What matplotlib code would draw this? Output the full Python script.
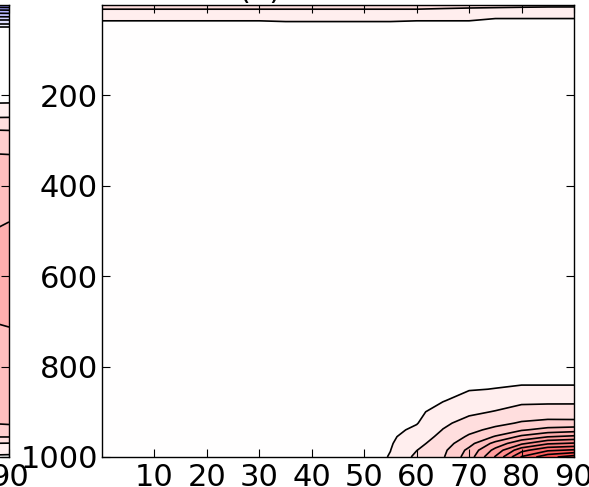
import numpy as np
import matplotlib.pyplot as plt

# latitude / pressure grid for panel (b)
lat = [0, 5, 10, 15, 20, 25, 30, 35, 40, 45, 50, 55, 60, 65, 70, 75, 80, 85, 90]
plev = [0, 5, 10, 20, 30, 50, 70, 100, 200, 400, 600, 700,
        800, 850, 875, 900, 925, 940, 955, 970, 985, 1000]

field_b = [
    [2.1, 2.1, 2.1, 2.1, 2.1, 2.1, 2.1, 2.1, 2.1, 2.1, 2.1, 2.1, 2.1, 2.1, 2.0, 1.95, 1.9, 1.85, 1.8],
    [1.8, 1.8, 1.8, 1.8, 1.8, 1.8, 1.8, 1.8, 1.8, 1.8, 1.8, 1.8, 1.8, 1.7, 1.6, 1.55, 1.5, 1.45, 1.45],
    [1.45, 1.45, 1.45, 1.45, 1.45, 1.45, 1.45, 1.45, 1.45, 1.45, 1.45, 1.45, 1.45, 1.35, 1.3, 1.25, 1.25, 1.25, 1.25],
    [0.95, 0.95, 0.95, 0.95, 0.95, 0.95, 0.95, 1.0, 1.0, 1.0, 1.0, 1.0, 0.95, 0.95, 0.95, 0.85, 0.85, 0.85, 0.85],
    [0.6, 0.6, 0.6, 0.6, 0.6, 0.6, 0.6, 0.65, 0.65, 0.65, 0.65, 0.65, 0.6, 0.6, 0.6, 0.5, 0.5, 0.5, 0.5],
    [0.2, 0.2, 0.2, 0.2, 0.2, 0.2, 0.2, 0.2, 0.2, 0.2, 0.2, 0.2, 0.2, 0.2, 0.2, 0.2, 0.2, 0.2, 0.2],
    [0.1, 0.1, 0.1, 0.1, 0.1, 0.1, 0.1, 0.1, 0.1, 0.1, 0.1, 0.1, 0.1, 0.1, 0.1, 0.1, 0.1, 0.1, 0.1],
    [0.05, 0.05, 0.05, 0.05, 0.05, 0.05, 0.05, 0.05, 0.05, 0.05, 0.05, 0.05, 0.05, 0.05, 0.05, 0.05, 0.05, 0.05, 0.05],
    [0, 0, 0, 0, 0, 0, 0, 0, 0, 0, 0, 0, 0, 0, 0, 0, 0, 0, 0],
    [0, 0, 0, 0, 0, 0, 0, 0, 0, 0, 0, 0, 0, 0, 0, 0, 0, 0, 0],
    [0, 0, 0, 0, 0, 0, 0, 0, 0, 0, 0, 0, 0, 0, 0, 0, 0, 0, 0],
    [0, 0, 0, 0, 0, 0, 0, 0, 0, 0, 0, 0, 0, 0, 0, 0, 0, 0, 0],
    [0, 0, 0, 0, 0, 0, 0, 0, 0, 0, 0, 0, 0, 0, 0.02, 0.05, 0.05, 0.05, 0.05],
    [0, 0, 0, 0, 0, 0, 0, 0, 0, 0, 0, 0, 0.05, 0.25, 0.45, 0.52, 0.6, 0.6, 0.6],
    [0, 0, 0, 0, 0, 0, 0, 0, 0, 0, 0, 0.02, 0.15, 0.45, 0.85, 1.03, 1.28, 1.3, 1.3],
    [0, 0, 0, 0, 0, 0, 0, 0, 0, 0, 0, 0.05, 0.3, 0.88, 1.3, 1.55, 1.89, 1.95, 1.96],
    [0, 0, 0, 0, 0, 0, 0, 0, 0, 0, 0.02, 0.15, 0.45, 1.31, 1.85, 2.23, 2.6, 2.77, 2.75],
    [0, 0, 0, 0, 0, 0, 0, 0, 0, 0, 0.03, 0.25, 0.68, 1.53, 2.23, 2.76, 3.39, 3.85, 4.05],
    [0, 0, 0, 0, 0, 0, 0, 0, 0, 0, 0.05, 0.35, 0.95, 1.77, 2.64, 3.58, 4.72, 5.45, 5.72],
    [0, 0, 0, 0, 0, 0, 0, 0, 0, 0, 0.07, 0.42, 1.21, 2.02, 3.16, 4.83, 6.3, 7.36, 7.61],
    [0, 0, 0, 0, 0, 0, 0, 0, 0, 0, 0.1, 0.49, 1.48, 2.26, 3.75, 5.82, 8.17, 9.33, 9.64],
    [0, 0, 0, 0, 0, 0, 0, 0, 0, 0, 0.12, 0.55, 1.75, 2.4, 4.0, 6.6, 9.6, 11.2, 12.0],
]

# edge of panel (a) next to it
lat_a = [80, 85, 90]
plev_a = [0, 10, 20, 30, 40, 50, 100, 200, 225, 250, 275, 325, 400,
          500, 600, 720, 800, 900, 930, 955, 970, 1000]
field_a = [
    [-7.3, -7.4, -7.5],
    [-5.5, -5.6, -5.7],
    [-4.1, -4.2, -4.3],
    [-2.9, -3.0, -3.0],
    [-1.7, -1.8, -1.8],
    [-0.3, -0.3, -0.3],
    [0.0, 0.0, 0.0],
    [0.2, 0.2, 0.2],
    [0.6, 0.63, 0.65],
    [1.5, 1.53, 1.55],
    [2.45, 2.48, 2.45],
    [3.45, 3.48, 3.45],
    [3.9, 4.0, 4.1],
    [4.3, 4.45, 4.6],
    [4.6, 4.7, 4.8],
    [4.4, 4.45, 4.48],
    [4.1, 4.15, 4.2],
    [3.7, 3.75, 3.8],
    [3.4, 3.45, 3.48],
    [2.6, 2.55, 2.55],
    [1.6, 1.5, 1.45],
    [0.4, 0.35, 0.3],
]

xticks = [10, 20, 30, 40, 50, 60, 70, 80, 90]
yticks = [200, 400, 600, 800, 1000]

levels = np.arange(-20.5, 21, 1.0)
vmax = 16

plt.rcParams['font.family'] = 'DejaVu Sans'
plt.rcParams['xtick.direction'] = 'in'
plt.rcParams['ytick.direction'] = 'in'
plt.rcParams['xtick.top'] = True
plt.rcParams['ytick.right'] = True

fig = plt.figure(figsize=(5.89, 4.87), dpi=100)
W, H = 589.0, 487.0
ax_b = fig.add_axes([102 / W, 30 / H, 472 / W, 452 / H])
ax_a = fig.add_axes([(9 - 472) / W, 30 / H, 472 / W, 452 / H])


def draw(ax, x, y, z):
    z = np.array(z)
    ax.contourf(x, y, z, levels=levels, cmap='bwr', vmin=-vmax, vmax=vmax)
    ax.contour(x, y, z, levels=levels, colors='k', linewidths=1.2,
               linestyles='solid')
    ax.set_xlim(0, 90)
    ax.set_ylim(1000, 0)
    ax.set_xticks(xticks)
    ax.set_yticks(yticks)
    ax.tick_params(labelsize=22, length=6, width=0.8, pad=4.5)
    ax.tick_params(axis='y', pad=3)
    for s in ax.spines.values():
        s.set_linewidth(1.0)


draw(ax_b, lat, plev, field_b)
draw(ax_a, lat_a, plev_a, field_a)

fig.text(260 / W, 1.002, '(b)', ha='center', va='baseline', fontsize=22)

fig.savefig('out.png', dpi=100)
